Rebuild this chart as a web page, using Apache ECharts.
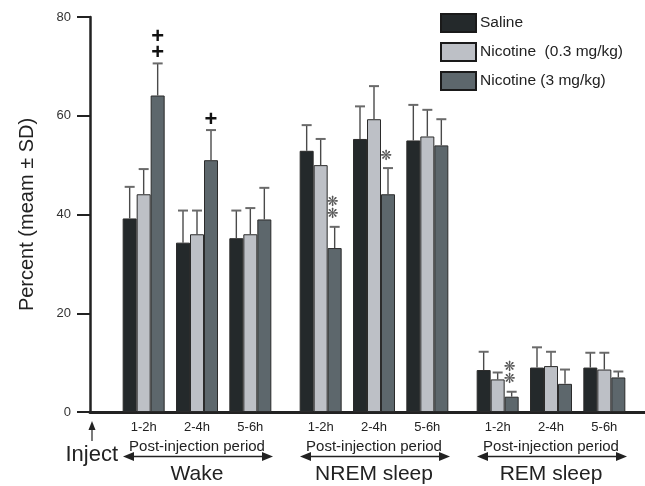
<!DOCTYPE html>
<html><head><meta charset="utf-8">
<script src="https://cdn.jsdelivr.net/npm/echarts@6/dist/echarts.min.js"></script>
<style>html,body{margin:0;padding:0;background:#fff}#c{width:645px;height:486px}</style>
</head><body><div id="c"></div>
<script>
// ---- data ----
const periods = ['1-2h', '2-4h', '5-6h'];
const states = ['Wake', 'NREM sleep', 'REM sleep'];
const seriesNames = ['Saline', 'Nicotine  (0.3 mg/kg)', 'Nicotine (3 mg/kg)'];
const yTicks = [0, 20, 40, 60, 80];
// values ordered Wake(1-2h,2-4h,5-6h), NREM(...), REM(...)
const salineMean = [39.2, 34.3, 35.2, 52.9, 55.3, 55.0, 8.5, 9.0, 9.0];
const salineSD   = [6.4, 6.5, 5.6, 5.2, 6.6, 7.2, 3.7, 4.1, 3.0];
const nic03Mean  = [44.1, 36.0, 36.0, 50.0, 59.3, 55.8, 6.6, 9.3, 8.6];
const nic03SD    = [5.1, 4.8, 5.3, 5.3, 6.7, 5.4, 1.4, 2.9, 3.4];
const nic3Mean   = [64.1, 51.0, 39.0, 33.2, 44.1, 54.0, 3.1, 5.7, 7.0];
const nic3SD     = [6.5, 6.1, 6.4, 4.3, 5.3, 5.3, 1.0, 2.9, 1.2];
const salineMarks = ['', '', '', '', '', '', '', '', ''];
const nic03Marks  = ['', '', '', '', '', '', '', '', ''];
const nic3Marks   = ['++', '+', '', '**', '*', '', '**', '', ''];

// ---- layout / style ----
const FONT = "'Liberation Sans', Arial, sans-serif";
const TOP = 17, BOTTOM = 74, GROUP_LEFT = [117, 294, 471], GROUP_W = 160, BAR_W = 14;
const COLORS = ['#24292b', '#bdc0c6', '#5d676c'];
const means = [salineMean, nic03Mean, nic3Mean];
const sds = [salineSD, nic03SD, nic3SD];
const marks = [salineMarks, nic03Marks, nic3Marks];

const grid = [{ left: 90, right: 0, top: TOP, bottom: BOTTOM, outerBoundsMode: 'none', containLabel: false }]
  .concat(GROUP_LEFT.map(l => ({ left: l, width: GROUP_W, top: TOP, bottom: BOTTOM, outerBoundsMode: 'none', containLabel: false })));

const xAxis = [{
  gridIndex: 0, type: 'value', min: 0, max: 1,
  axisLine: { show: true, onZero: false, lineStyle: { color: '#222', width: 3 } },
  axisTick: { show: false }, axisLabel: { show: false }, splitLine: { show: false }
}];
const yAxis = [{
  gridIndex: 0, type: 'value', min: 0, max: 80, interval: 20,
  axisLine: { show: true, lineStyle: { color: '#222', width: 2.5 } },
  axisTick: { show: true, length: 13, lineStyle: { color: '#222', width: 2 } },
  axisLabel: { color: '#333', fontSize: 13, margin: 19, fontFamily: FONT,
    formatter: v => yTicks.includes(v) ? String(v) : '' },
  splitLine: { show: false },
  name: 'Percent (meam \u00b1 SD)', nameLocation: 'middle', nameGap: 53, nameRotate: 90,
  nameTextStyle: { fontSize: 20, color: '#222', fontFamily: FONT }
}];
const series = [];
states.forEach((st, g) => {
  xAxis.push({
    gridIndex: g + 1, type: 'category', data: periods,
    axisLine: { show: false }, axisTick: { show: false },
    axisLabel: { color: '#222', fontSize: 13, margin: 9, fontFamily: FONT },
    name: 'Post-injection period', nameLocation: 'middle', nameGap: 26,
    nameTextStyle: { fontSize: 15, color: '#222', fontFamily: FONT }
  });
  xAxis.push({
    gridIndex: g + 1, type: 'category', data: periods, position: 'bottom',
    axisLine: { show: false }, axisTick: { show: false }, axisLabel: { show: false },
    name: st, nameLocation: 'middle', nameGap: 52,
    nameTextStyle: { fontSize: 21, color: '#222', fontFamily: FONT }
  });
  yAxis.push({ gridIndex: g + 1, type: 'value', min: 0, max: 80, show: false });
  for (let s = 0; s < 3; s++) {
    const sl = i => i + 3 * g;
    series.push({
      type: 'bar', name: seriesNames[s], xAxisIndex: 1 + 2 * g, yAxisIndex: 1 + g,
      data: periods.map((p, i) => means[s][sl(i)]),
      barWidth: BAR_W, barGap: '0%',
      itemStyle: { color: COLORS[s], borderColor: '#2b2b2b', borderWidth: 1 },
      silent: true, z: 2
    });
    series.push({
      type: 'custom', name: 'err' + s, xAxisIndex: 1 + 2 * g, yAxisIndex: 1 + g, z: 3, silent: true,
      data: periods.map((p, i) => [i, means[s][sl(i)], sds[s][sl(i)]]),
      renderItem: (params, api) => {
        const i = api.value(0), m = api.value(1), sd = api.value(2);
        const base = api.coord([i, m]);
        const top = api.coord([i, m + sd]);
        const x = base[0] + (s - 1) * BAR_W;
        const children = [
          { type: 'line', shape: { x1: x, y1: base[1], x2: x, y2: top[1] },
            style: { stroke: '#4a4a4a', lineWidth: 1.4 } },
          { type: 'line', shape: { x1: x - 5, y1: top[1], x2: x + 5, y2: top[1] },
            style: { stroke: '#6a6a6a', lineWidth: 2 } }
        ];
        const mk = marks[s][sl(i)];
        for (let k = 0; k < mk.length; k++) {
          if (mk[k] === '+') {
            children.push({ type: 'text', x: x, y: top[1] - 10 - k * 16,
              style: { text: '+', font: 'bold 22px ' + FONT, fill: '#111', align: 'center', verticalAlign: 'middle' } });
          } else {
            children.push({ type: 'text', x: x - 2, y: top[1] - 12 - k * 12.5,
              style: { text: '\u274b', font: "14px 'DejaVu Sans'", fill: '#555', align: 'center', verticalAlign: 'middle' } });
          }
        }
        return { type: 'group', children };
      }
    });
  }
});

// arrows under each state group and "Inject" marker
const ARROW_Y = 456.5;
const graphic = [];
GROUP_LEFT.forEach(l => {
  const x1 = l + 6, x2 = l + GROUP_W - 4;
  graphic.push({ type: 'line', shape: { x1: x1 + 6, y1: ARROW_Y, x2: x2 - 6, y2: ARROW_Y }, style: { stroke: '#222', lineWidth: 1.5 } });
  graphic.push({ type: 'polygon', shape: { points: [[x1, ARROW_Y], [x1 + 11, ARROW_Y - 4.5], [x1 + 11, ARROW_Y + 4.5]] }, style: { fill: '#222' } });
  graphic.push({ type: 'polygon', shape: { points: [[x2, ARROW_Y], [x2 - 11, ARROW_Y - 4.5], [x2 - 11, ARROW_Y + 4.5]] }, style: { fill: '#222' } });
});
graphic.push({ type: 'line', shape: { x1: 92, y1: 428, x2: 92, y2: 441 }, style: { stroke: '#222', lineWidth: 1.2 } });
graphic.push({ type: 'polygon', shape: { points: [[92, 421], [88.5, 430], [95.5, 430]] }, style: { fill: '#222' } });
graphic.push({ type: 'text', x: 118, y: 455, style: { text: 'Inject', font: '22px ' + FONT, fill: '#222', align: 'right', verticalAlign: 'middle' } });

const chart = echarts.init(document.getElementById('c'), null, { renderer: 'canvas' });
chart.setOption({
  animation: false,
  backgroundColor: '#fff',
  textStyle: { fontFamily: FONT },
  grid, xAxis, yAxis, series, graphic,
  legend: {
    data: seriesNames, orient: 'vertical', left: 440, top: 13, padding: 0,
    icon: 'rect',
    itemWidth: 35, itemHeight: 18, itemGap: 9, selectedMode: false,
    textStyle: { fontSize: 15.5, color: '#222', fontFamily: FONT, padding: [0, 0, 0, -1] },
    itemStyle: { borderColor: '#1a1a1a', borderWidth: 2 }
  }
});
</script></body></html>
